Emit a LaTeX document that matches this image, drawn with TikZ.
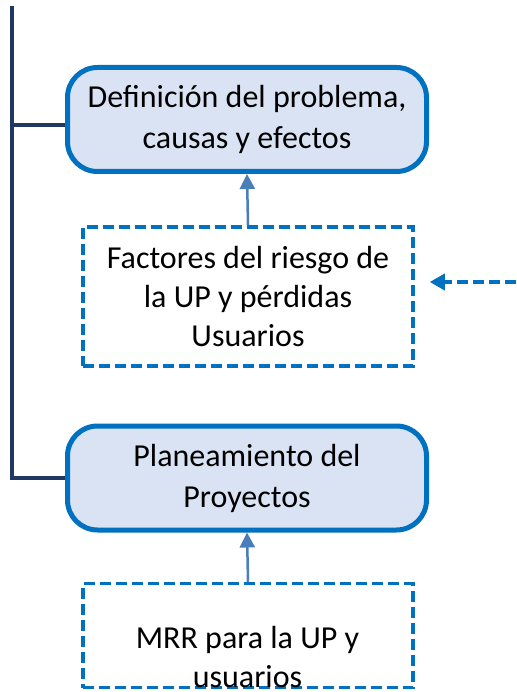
\documentclass[tikz,border=0pt]{standalone}
\usepackage{fontspec}
\setmainfont{Carlito}
\usetikzlibrary{arrows.meta,positioning}
\definecolor{boxblue}{RGB}{0,112,192}
\definecolor{boxfill}{RGB}{218,227,243}
\definecolor{spinecol}{RGB}{31,56,100}
\definecolor{arrblue}{RGB}{74,126,187}

\begin{document}
\begin{tikzpicture}[x=1pt,y=-1pt]
  \useasboundingbox (0,0) rectangle (516,692);

  \tikzstyle{StepBox}=[draw=boxblue,fill=boxfill,line width=5pt,rounded corners=30pt,
    minimum width=359pt,minimum height=104pt,align=center,
    font=\fontsize{32}{41}\selectfont]
  \tikzstyle{InputBox}=[draw=boxblue,line width=3.5pt,dash pattern=on 11pt off 5pt,
    minimum width=330pt,align=center,font=\fontsize{32}{39}\selectfont]
  \tikzstyle{UpArrow}=[draw=arrblue,line width=2.5pt,-{Triangle[length=15pt,width=15pt]}]

  \node[StepBox] (defin) at (247,119.5) {Definición del problema,\\causas y efectos};
  \node[StepBox] (plan) at (247,478) {Planeamiento del\\Proyectos};

  \node[InputBox,minimum height=139pt] (factores) at (248,296.5)
    {Factores del riesgo de\\la UP y pérdidas\\Usuarios};
  \node[InputBox,minimum height=104pt] (mrr) at (248,635.5) {};
  \node[align=center,font=\fontsize{32}{39}\selectfont] (mrrtext) at (247.5,657)
    {MRR para la UP y\\usuarios};

  \coordinate (spinetop) at (12,6);
  \coordinate (spinejoin) at (12,125);
  \coordinate (outside) at (516,282);

  % left spine
  \draw[spinecol,line width=3.5pt] (spinetop) |- (plan.west);
  \draw[spinecol,line width=3.5pt] (spinejoin) -- ([yshift=-5.5pt]defin.west);

  % inputs
  \draw[UpArrow] (factores.north) -- (defin.south);
  \draw[UpArrow] (mrr.north) -- (plan.south);
  \draw[draw=boxblue,line width=3.5pt,dash pattern=on 11pt off 5pt,
    -{Triangle[length=15pt,width=16pt]}] (outside) -- ([xshift=15pt]factores.east |- outside);
\end{tikzpicture}
\end{document}
